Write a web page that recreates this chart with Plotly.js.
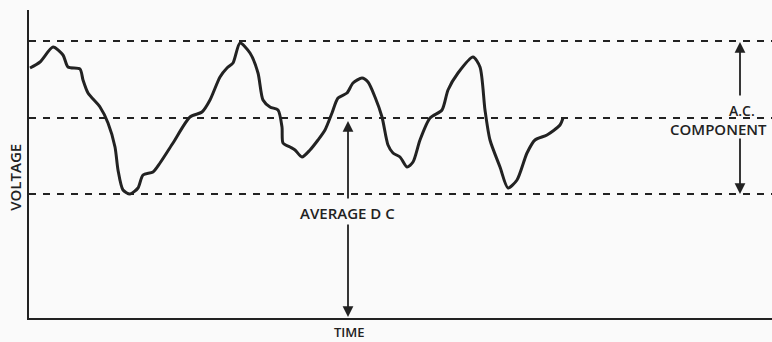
<!DOCTYPE html>
<html>
<head>
<meta charset="utf-8">
<script src="https://cdn.plot.ly/plotly-3.0.1.min.js"></script>
<style>html,body{margin:0;padding:0;background:#fafafa;}#chart{width:772px;height:342px;}</style>
</head>
<body>
<div id="chart"></div>
<script>
// Waveform (time, voltage) in arbitrary units
const timeVals = [1, 11, 24, 34, 39, 51, 54, 59, 71, 79, 86, 89, 94, 101, 109, 114, 124, 131, 144, 161, 173, 181, 191, 198, 204, 211, 221, 229, 234, 241, 249, 253, 254, 261, 266, 273, 281, 289, 296, 303, 309, 318, 324, 333, 339, 346, 353, 359, 364, 371, 378, 384, 391, 401, 413, 419, 429, 444, 451, 456, 461, 471, 479, 488, 498, 506, 518, 531, 534];
const voltVals = [250, 256, 271, 263, 251, 249, 238, 225, 211, 195, 171, 148, 128, 124, 130, 143, 146, 155, 175, 201, 206, 218, 241, 250, 255, 275, 265, 245, 218, 211, 208, 191, 175, 171, 168, 161, 168, 178, 188, 205, 220, 225, 235, 240, 236, 221, 201, 173, 165, 161, 151, 156, 178, 200, 208, 228, 245, 261, 251, 208, 178, 151, 130, 138, 165, 178, 183, 193, 200];
// Reference levels
const levelNames = ["peak", "average DC", "trough"];
const levelVals = [277, 200, 124];
const timeSpan = [0, 743];
const voltSpan = [0, 308];
// Arrow positions [from, to]
const dcArrowX = 319;
const dcUpper = [118, 197];
const dcLower = [95, 1];
const acArrowX = 711;
const acUpper = [221, 276];
const acLower = [181, 124];

const ink = '#222';
const traces = [];
levelVals.forEach((v, i) => {
  traces.push({x: timeSpan, y: [v, v], mode: 'lines', name: levelNames[i],
    line: {color: ink, width: 2, dash: '7px,7px'}, hoverinfo: 'skip'});
});
traces.push({x: timeVals, y: voltVals, mode: 'lines', name: 'voltage',
  line: {color: ink, width: 3, shape: 'spline', smoothing: 0.7}});

function arrow(x, from, to) {
  return {x: x, y: to, ax: x, ay: from, xref: 'x', yref: 'y', axref: 'x', ayref: 'y',
    showarrow: true, arrowhead: 2, arrowsize: 1.2, arrowwidth: 1.8, arrowcolor: ink, text: ''};
}
function f(size) { return {family: 'Open Sans', size: size, color: ink, weight: 600}; }
const annotations = [
  arrow(dcArrowX, dcUpper[0], dcUpper[1]),
  arrow(dcArrowX, dcLower[0], dcLower[1]),
  arrow(acArrowX, acUpper[0], acUpper[1]),
  arrow(acArrowX, acLower[0], acLower[1]),
  {x: 318, y: 105, xref: 'x', yref: 'y', text: 'AVERAGE D C', showarrow: false, font: f(15)},
  {x: 713, y: 208, xref: 'x', yref: 'y', text: 'A.C.', showarrow: false, font: f(14)},
  {x: 639, y: 189, xref: 'x', yref: 'y', xanchor: 'left', text: 'COMPONENT', showarrow: false, font: f(15)},
  {x: 0.4307, y: -0.045, xref: 'paper', yref: 'paper', xanchor: 'center', yanchor: 'middle', text: 'TIME', showarrow: false, font: f(13)},
  {x: -0.019, y: 0.458, xref: 'paper', yref: 'paper', xanchor: 'center', yanchor: 'middle', text: 'VOLTAGE', showarrow: false, textangle: -90, font: f(15)}
];

const layout = {
  width: 772, height: 342,
  margin: {l: 29, r: 0, t: 10, b: 24},
  paper_bgcolor: '#fafafa', plot_bgcolor: '#fafafa',
  showlegend: false,
  xaxis: {range: timeSpan, showgrid: false, zeroline: false, showticklabels: false, ticks: '',
    showline: true, linecolor: ink, linewidth: 2},
  yaxis: {range: voltSpan, showgrid: false, zeroline: false, showticklabels: false, ticks: '',
    showline: true, linecolor: ink, linewidth: 2},
  annotations: annotations
};
Plotly.newPlot('chart', traces, layout, {displayModeBar: false, staticPlot: true});
</script>
</body>
</html>
